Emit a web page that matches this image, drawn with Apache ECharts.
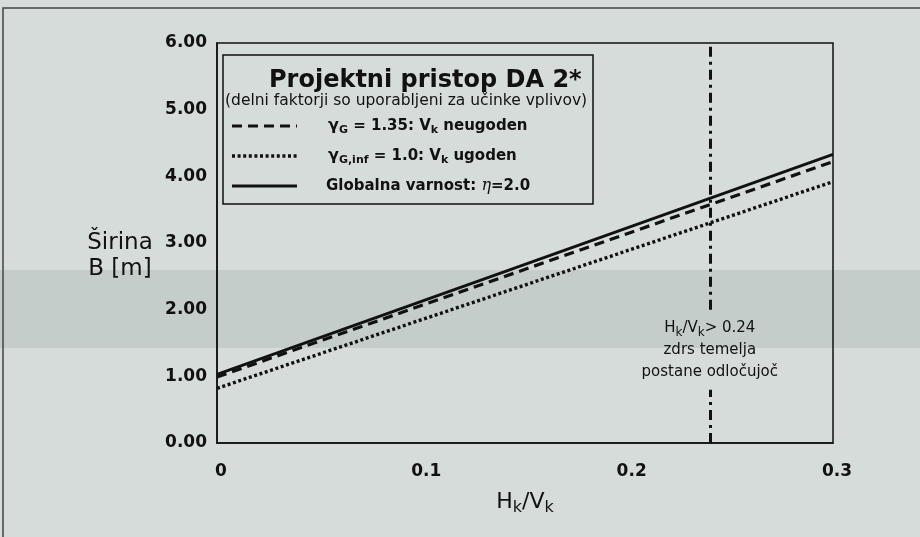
<!DOCTYPE html>
<html><head><meta charset="utf-8">
<script src="https://cdn.jsdelivr.net/npm/echarts@6/dist/echarts.min.js"></script>
<style>html,body{margin:0;padding:0;background:#d6dcd9}#c{width:920px;height:537px}</style>
</head><body><div id="c"></div>
<script>
// ---- data ----
const xValues = [0, 0.3];                       // H_k / V_k
const seriesNames = ['γG = 1.35: Vk neugoden', 'γG,inf = 1.0: Vk ugoden', 'Globalna varnost: η=2.0'];
const widthGammaG135 = [0.99, 4.22];            // dashed
const widthGammaGinf = [0.82, 3.92];            // dotted
const widthGlobal = [1.03, 4.33];               // solid
const xTickLabels = ['0', '0.1', '0.2', '0.3'];
const yTickLabels = ['0.00', '1.00', '2.00', '3.00', '4.00', '5.00', '6.00'];
const limitRatio = 0.24;
const limitGapFrom = 0.8, limitGapTo = 2.0;     // gap in the vertical line where the note sits
const noteY = 1.4;

const FONT = "'DejaVu Sans', sans-serif";
const INK = '#111';

function pairs(ys) { return xValues.map((x, i) => [x, ys[i]]); }

const chart = echarts.init(document.getElementById('c'), null, { renderer: 'canvas' });

const noteRich = {
  n: { fontFamily: FONT, fontSize: 15, color: INK, lineHeight: 22 },
  s: { fontFamily: FONT, fontSize: 12, color: INK, lineHeight: 13, verticalAlign: 'bottom' }
};
const legRich = {
  g: { font: "bold 16px 'DejaVu Sans'", fill: INK, lineHeight: 20 },
  t: { font: "bold 15px 'DejaVu Sans'", fill: INK, lineHeight: 20 },
  s: { font: "bold 11px 'DejaVu Sans'", fill: INK, lineHeight: 12, verticalAlign: 'bottom' },
  e: { font: "italic 16px 'DejaVu Serif'", fill: INK, lineHeight: 20 }
};
function legText(x, y, text) {
  return { type: 'text', z: 11, x: x, y: y, silent: true,
    style: { text: text, textAlign: 'left', textVerticalAlign: 'middle', rich: legRich } };
}

const option = {
  backgroundColor: '#d6dcd9',
  animation: false,
  grid: {
    left: 217, top: 43, right: 87, bottom: 94,
    show: true, borderColor: INK, borderWidth: 1.5, backgroundColor: 'transparent',
    containLabel: false, outerBoundsMode: 'none'
  },
  xAxis: {
    type: 'value', min: 0, max: 0.3, interval: 0.1,
    axisLine: { show: true, lineStyle: { color: INK, width: 1.5 } },
    axisTick: { show: false }, splitLine: { show: false },
    axisLabel: {
      margin: 20, color: INK, fontFamily: FONT, fontWeight: 'bold', fontSize: 17,
      padding: [0, 0, 0, 8],
      formatter: v => xTickLabels[Math.round(v * 10)]
    },
    name: '{n|H}{s|k}{n|/V}{s|k}', nameLocation: 'middle', nameGap: 45,
    nameTextStyle: {
      rich: {
        n: { fontFamily: FONT, fontSize: 22, color: INK, lineHeight: 28 },
        s: { fontFamily: FONT, fontSize: 16, color: INK, lineHeight: 16, verticalAlign: 'bottom' }
      }
    }
  },
  yAxis: {
    type: 'value', min: 0, max: 6, interval: 1,
    axisLine: { show: true, lineStyle: { color: INK, width: 1.5 } },
    axisTick: { show: false }, splitLine: { show: false },
    axisLabel: {
      margin: 10, color: INK, fontFamily: FONT, fontWeight: 'bold', fontSize: 17,
      formatter: v => yTickLabels[Math.round(v)]
    },
    name: '\nŠirina\nB [m]', nameLocation: 'middle', nameRotate: 0, nameGap: 97,
    nameTextStyle: {
      fontFamily: FONT, fontSize: 23, color: INK, lineHeight: 26,
      align: 'center', verticalAlign: 'middle'
    }
  },
  series: [
    {
      name: seriesNames[1], type: 'line', data: pairs(widthGammaGinf),
      symbol: 'none', z: 3,
      lineStyle: { color: INK, width: 3.4, type: [3, 2.6] },
      markLine: {
        symbol: 'none', silent: true,
        label: { show: false },
        lineStyle: { color: INK, width: 3, type: [10, 5, 3, 5] },
        data: [
          [{ coord: [limitRatio, 0] }, { coord: [limitRatio, limitGapFrom] }],
          [{ coord: [limitRatio, limitGapTo] }, { coord: [limitRatio, 6] }]
        ]
      },
      markPoint: {
        symbol: 'circle', symbolSize: 1, silent: true,
        itemStyle: { color: 'transparent' },
        label: {
          show: true, position: 'inside', color: INK,
          formatter: '{n|H}{s|k}{n|/V}{s|k}{n|> ' + limitRatio + '}\n{n|zdrs temelja}\n{n|postane odločujoč}',
          rich: noteRich
        },
        data: [{ coord: [limitRatio, noteY] }]
      }
    },
    {
      name: seriesNames[0], type: 'line', data: pairs(widthGammaG135),
      symbol: 'none', z: 4,
      lineStyle: { color: INK, width: 3.2, type: [10, 6] }
    },
    {
      name: seriesNames[2], type: 'line', data: pairs(widthGlobal),
      symbol: 'none', z: 5,
      lineStyle: { color: INK, width: 2.8, type: 'solid' }
    }
  ],
  graphic: {
    elements: [
      { type: 'rect', z: -1, silent: true, shape: { x: 0, y: 270, width: 920, height: 78 },
        style: { fill: '#c5cdcb' } },
      { type: 'polyline', z: 10, silent: true, shape: { points: [[920, 8], [3, 8], [3, 537]] },
        style: { stroke: '#444', lineWidth: 1.5, fill: null } },
      { type: 'rect', z: 10, silent: true, shape: { x: 223, y: 55, width: 370, height: 149 },
        style: { fill: 'transparent', stroke: INK, lineWidth: 1.5 } },
      { type: 'text', z: 11, x: 269, y: 81, silent: true,
        style: { text: 'Projektni pristop DA 2*', font: "bold 24px 'DejaVu Sans'", fill: INK,
                 textAlign: 'left', textVerticalAlign: 'middle' } },
      { type: 'text', z: 11, x: 225, y: 101, silent: true,
        style: { text: '(delni faktorji so uporabljeni za učinke vplivov)', font: "15.5px 'DejaVu Sans'", fill: INK,
                 textAlign: 'left', textVerticalAlign: 'middle' } },
      { type: 'line', z: 11, silent: true, shape: { x1: 232, y1: 126, x2: 297, y2: 126 },
        style: { stroke: INK, lineWidth: 3.2, lineDash: [10, 6] } },
      { type: 'line', z: 11, silent: true, shape: { x1: 232, y1: 156, x2: 297, y2: 156 },
        style: { stroke: INK, lineWidth: 3.4, lineDash: [3, 2.6] } },
      { type: 'line', z: 11, silent: true, shape: { x1: 232, y1: 186, x2: 297, y2: 186 },
        style: { stroke: INK, lineWidth: 2.8 } },
      legText(328, 126, '{g|γ}{s|G}{t| = 1.35: V}{s|k}{t| neugoden}'),
      legText(328, 156, '{g|γ}{s|G,inf}{t| = 1.0: V}{s|k}{t| ugoden}'),
      legText(326, 186, '{t|Globalna varnost: }{e|η}{t|=2.0}')
    ]
  }
};
chart.setOption(option);
</script></body></html>
